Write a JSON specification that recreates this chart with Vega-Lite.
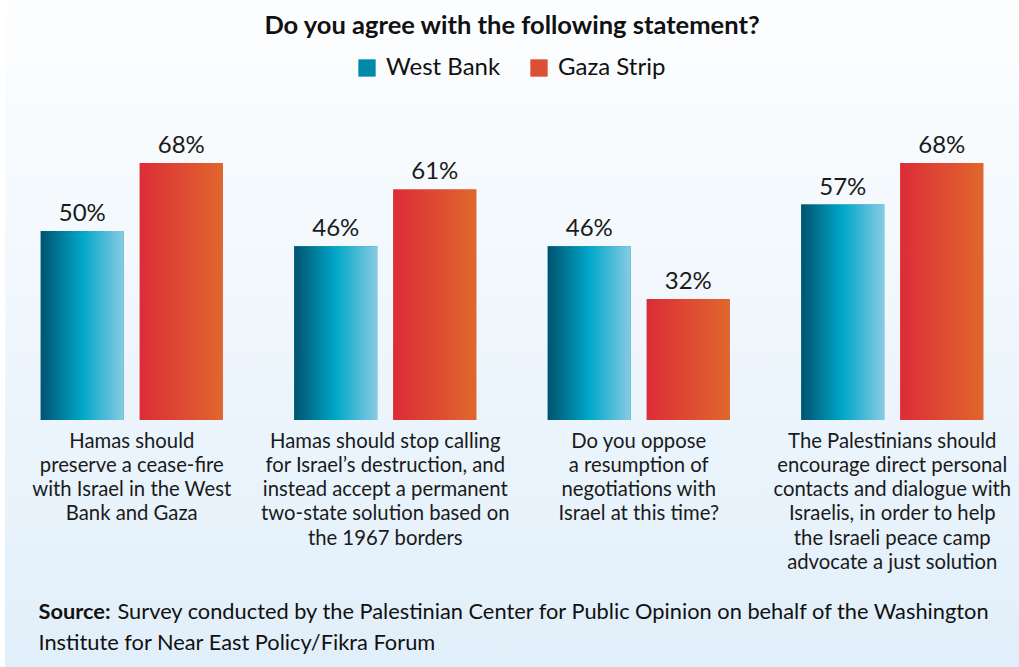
{
  "$schema": "https://vega.github.io/schema/vega-lite/v6.json",
  "autosize": {"type": "none"},
  "padding": {"left": 5, "top": 0, "right": 0, "bottom": 0},
  "width": 1014,
  "height": 667,
  "background": "#ffffff",
  "title": {
    "text": "Do you agree with the following statement?",
    "font": "Lato",
    "fontWeight": "bold",
    "fontSize": 25.5,
    "color": "#111111",
    "anchor": "middle",
    "frame": "group",
    "offset": -39
  },
  "data": {
    "values": [
      {"statement": "Hamas should|preserve a cease-fire|with Israel in the West|Bank and Gaza", "region": "West Bank", "value": 0.50},
      {"statement": "Hamas should|preserve a cease-fire|with Israel in the West|Bank and Gaza", "region": "Gaza Strip", "value": 0.68},
      {"statement": "Hamas should stop calling|for Israel’s destruction, and|instead accept a permanent|two-state solution based on|the 1967 borders", "region": "West Bank", "value": 0.46},
      {"statement": "Hamas should stop calling|for Israel’s destruction, and|instead accept a permanent|two-state solution based on|the 1967 borders", "region": "Gaza Strip", "value": 0.61},
      {"statement": "Do you oppose|a resumption of|negotiations with|Israel at this time?", "region": "West Bank", "value": 0.46},
      {"statement": "Do you oppose|a resumption of|negotiations with|Israel at this time?", "region": "Gaza Strip", "value": 0.32},
      {"statement": "The Palestinians should|encourage direct personal|contacts and dialogue with|Israelis, in order to help|the Israeli peace camp|advocate a just solution", "region": "West Bank", "value": 0.57},
      {"statement": "The Palestinians should|encourage direct personal|contacts and dialogue with|Israelis, in order to help|the Israeli peace camp|advocate a just solution", "region": "Gaza Strip", "value": 0.68}
    ]
  },
  "encoding": {
    "x": {
      "field": "statement",
      "type": "nominal",
      "sort": null,
      "scale": {"paddingInner": 0, "paddingOuter": 0},
      "axis": {
        "orient": "bottom",
        "offset": -247,
        "domain": false,
        "ticks": false,
        "grid": false,
        "labelAngle": 0,
        "labelExpr": "split(datum.label, '|')",
        "labelFont": "Lato",
        "labelFontSize": 20.3,
        "labelColor": "#1a1a1a",
        "labelLineHeight": 24.3,
        "labelPadding": 11,
        "labelBaseline": "top",
        "labelLimit": 400,
        "title": "Source:",
        "titleFont": "Lato",
        "titleFontSize": 21.8,
        "titleFontWeight": "bold",
        "titleColor": "#111111",
        "titleAlign": "left",
        "titleBaseline": "alphabetic",
        "titleAnchor": "start",
        "titleX": 33,
        "titleY": 198
      }
    },
    "xOffset": {
      "field": "region",
      "type": "nominal",
      "scale": {"domain": ["West Bank", "Gaza Strip"], "paddingInner": 0.1616, "paddingOuter": 0.361}
    }
  },
  "layer": [
    {
      "mark": {"type": "bar"},
      "encoding": {
        "y": {
          "field": "value",
          "type": "quantitative",
          "scale": {"domain": [-0.653, 1.111], "nice": false, "zero": false},
          "axis": {
            "orient": "left",
            "labels": false,
            "ticks": false,
            "domain": false,
            "grid": false,
            "title": "Institute for Near East Policy/Fikra Forum",
            "titleFont": "Lato",
            "titleFontSize": 21.8,
            "titleFontWeight": "normal",
            "titleColor": "#111111",
            "titleAngle": 0,
            "titleAlign": "left",
            "titleBaseline": "alphabetic",
            "titleX": 33,
            "titleY": 649
          }
        },
        "color": {
          "field": "region",
          "type": "nominal",
          "scale": {"domain": ["West Bank", "Gaza Strip"], "range": ["#0089a8", "#dc4f33"]},
          "legend": {
            "orient": "none",
            "legendX": 350,
            "legendY": 56,
            "direction": "horizontal",
            "title": null,
            "padding": 0,
            "symbolType": "square",
            "symbolSize": 300,
            "symbolStrokeWidth": 0,
            "symbolOpacity": 1,
            "labelFont": "Lato",
            "labelFontSize": 24,
            "labelColor": "#111111",
            "labelOffset": 7,
            "columnPadding": 26
          }
        }
      }
    },
    {
      "transform": [{"filter": "datum.region === 'West Bank'"}],
      "mark": {
        "type": "bar",
        "color": {
          "gradient": "linear", "x1": 0, "y1": 0, "x2": 1, "y2": 0,
          "stops": [
            {"offset": 0, "color": "#00536f"},
            {"offset": 0.5, "color": "#00a7c9"},
            {"offset": 1, "color": "#88cbe2"}
          ]
        }
      },
      "encoding": {
        "y": {
          "field": "value",
          "type": "quantitative",
          "scale": {"domain": [-0.653, 1.111], "nice": false, "zero": false},
          "axis": {
            "orient": "right",
            "labels": false,
            "ticks": false,
            "domain": false,
            "grid": false,
            "title": "Survey conducted by the Palestinian Center for Public Opinion on behalf of the Washington",
            "titleFont": "Lato",
            "titleFontSize": 21.8,
            "titleFontWeight": "normal",
            "titleColor": "#111111",
            "titleAngle": 0,
            "titleAlign": "left",
            "titleBaseline": "alphabetic",
            "titleX": -902,
            "titleY": 618
          }
        }
      }
    },
    {
      "transform": [{"filter": "datum.region === 'Gaza Strip'"}],
      "mark": {
        "type": "bar",
        "color": {
          "gradient": "linear", "x1": 0, "y1": 0, "x2": 1, "y2": 0,
          "stops": [
            {"offset": 0, "color": "#dc2c38"},
            {"offset": 1, "color": "#e0672c"}
          ]
        }
      },
      "encoding": {
        "y": {
          "field": "value",
          "type": "quantitative",
          "scale": {"domain": [-0.653, 1.111], "nice": false, "zero": false},
          "axis": null
        }
      }
    },
    {
      "mark": {"type": "text", "font": "Lato", "fontSize": 24, "color": "#1a1a1a", "baseline": "alphabetic", "dy": -10},
      "encoding": {
        "y": {
          "field": "value",
          "type": "quantitative",
          "scale": {"domain": [-0.653, 1.111], "nice": false, "zero": false},
          "axis": null
        },
        "text": {"field": "value", "type": "quantitative", "format": ".0%"}
      }
    }
  ],
  "resolve": {"scale": {"y": "independent"}},
  "config": {
    "view": {
      "stroke": null,
      "fill": {
        "gradient": "linear", "x1": 0, "y1": 0, "x2": 0, "y2": 1,
        "stops": [
          {"offset": 0, "color": "#fdfeff"},
          {"offset": 1, "color": "#e1effa"}
        ]
      }
    }
  }
}
